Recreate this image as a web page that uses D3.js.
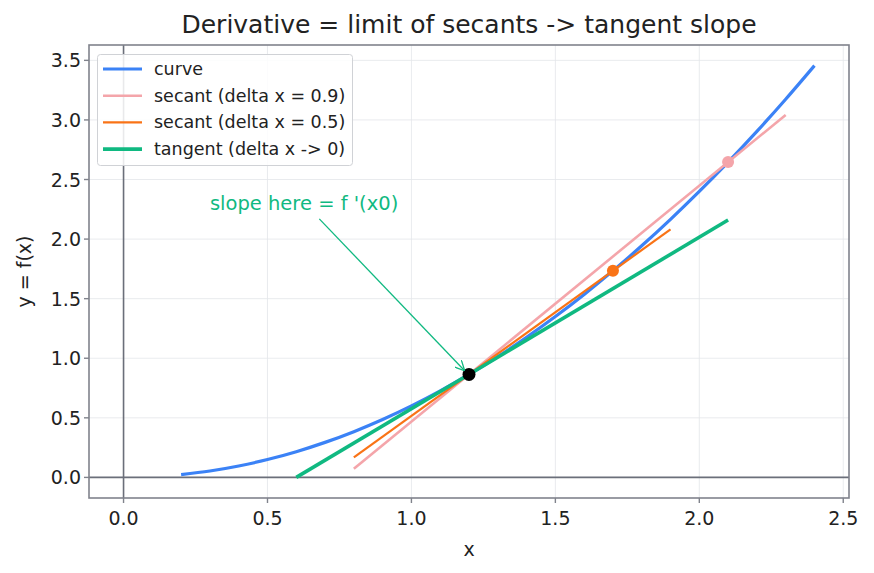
<!DOCTYPE html>
<html><head><meta charset="utf-8">
<script src="https://cdn.jsdelivr.net/npm/d3@7"></script>
<style>body{margin:0;background:#fff}svg{font-family:"DejaVu Sans",sans-serif}</style>
</head><body><svg id="c" width="874" height="573"></svg>
<script>
// curve samples
const curveX = [0.2,0.3,0.4,0.5,0.6,0.7,0.8,0.9,1.0,1.1,1.2,1.3,1.4,1.5,1.6,1.7,1.8,1.9,2.0,2.1,2.2,2.3,2.4];
const curveY = [0.024,0.054,0.096,0.15,0.216,0.294,0.384,0.486,0.6,0.726,0.864,1.014,1.176,1.35,1.536,1.734,1.944,2.166,2.4,2.646,2.904,3.174,3.456];
const secant09X = [0.8,2.3], secant09Y = [0.072,3.042];
const secant05X = [0.8,1.9], secant05Y = [0.168,2.082];
const tangentX = [0.6,2.1], tangentY = [0.0,2.16];
const pointsX = [1.2,1.7,2.1], pointsY = [0.864,1.734,2.646];
const xTicks = [0.0,0.5,1.0,1.5,2.0,2.5];
const yTicks = [0.0,0.5,1.0,1.5,2.0,2.5,3.0,3.5];
const legendLabels = ["curve","secant (delta x = 0.9)","secant (delta x = 0.5)","tangent (delta x -> 0)"];

const svg = d3.select("#c");
const L=89,R=849,T=45,B=498;
const x = d3.scaleLinear().domain([-0.12,2.52]).range([L,R]);
const y = d3.scaleLinear().domain([-0.1728,3.6288]).range([B,T]);
const gridC="#e3e6ea", spineC="#80838c";

svg.append("g").selectAll("line").data(xTicks).join("line")
 .attr("x1",d=>x(d)).attr("x2",d=>x(d)).attr("y1",T).attr("y2",B).attr("stroke",gridC).attr("stroke-width",0.8);
svg.append("g").selectAll("line").data(yTicks).join("line")
 .attr("y1",d=>y(d)).attr("y2",d=>y(d)).attr("x1",L).attr("x2",R).attr("stroke",gridC).attr("stroke-width",0.8);

svg.append("line").attr("x1",L).attr("x2",R).attr("y1",y(0)).attr("y2",y(0)).attr("stroke","#6b6f7a").attr("stroke-width",1.6);
svg.append("line").attr("y1",T).attr("y2",B).attr("x1",x(0)).attr("x2",x(0)).attr("stroke","#6b6f7a").attr("stroke-width",1.6);

const line = d3.line().x(d=>x(d[0])).y(d=>y(d[1])).curve(d3.curveMonotoneX);
const zip=(a,b)=>a.map((v,i)=>[v,b[i]]);
svg.append("path").attr("d",line(zip(curveX,curveY))).attr("fill","none").attr("stroke","#3b82f6").attr("stroke-width",3.2);
svg.append("path").attr("d",line(zip(secant09X,secant09Y))).attr("fill","none").attr("stroke","#f4a5aa").attr("stroke-width",2.6);
svg.append("path").attr("d",line(zip(secant05X,secant05Y))).attr("fill","none").attr("stroke","#f97316").attr("stroke-width",2.2);
svg.append("path").attr("d",line(zip(tangentX,tangentY))).attr("fill","none").attr("stroke","#10b981").attr("stroke-width",3.6);

const ptColors=["#000000","#f97316","#f4a5aa"];
svg.append("g").selectAll("circle").data(zip(pointsX,pointsY)).join("circle")
 .attr("cx",d=>x(d[0])).attr("cy",d=>y(d[1])).attr("r",d=>d[0]===1.2?6.5:6).attr("fill",(d,i)=>ptColors[i]);

svg.append("defs").append("marker").attr("id","ah").attr("viewBox","0 0 10 10").attr("refX",10).attr("refY",5)
 .attr("markerWidth",10).attr("markerHeight",10).attr("markerUnits","userSpaceOnUse").attr("orient","auto")
 .append("path").attr("d","M0,0 L10,5 L0,10").attr("fill","none").attr("stroke","#10b981").attr("stroke-width",1.3);
svg.append("line").attr("x1",x(0.68)).attr("y1",y(2.17)).attr("x2",x(1.185)).attr("y2",y(0.895))
 .attr("stroke","#10b981").attr("stroke-width",1.3).attr("marker-end","url(#ah)");
svg.append("text").attr("x",x(0.3)).attr("y",y(2.245)).attr("font-size",19.5).attr("fill","#10b981").text("slope here = f '(x0)");

svg.append("rect").attr("x",L).attr("y",T).attr("width",R-L).attr("height",B-T).attr("fill","none").attr("stroke",spineC).attr("stroke-width",1.6);

const xa=svg.append("g");
xTicks.forEach(t=>{
 xa.append("line").attr("x1",x(t)).attr("x2",x(t)).attr("y1",B).attr("y2",B+5).attr("stroke",spineC).attr("stroke-width",1.4);
 xa.append("text").attr("x",x(t)).attr("y",B+27).attr("text-anchor","middle").attr("font-size",19).attr("fill","#222").text(t.toFixed(1));
});
yTicks.forEach(t=>{
 xa.append("line").attr("y1",y(t)).attr("y2",y(t)).attr("x1",L).attr("x2",L-5).attr("stroke",spineC).attr("stroke-width",1.4);
 xa.append("text").attr("x",L-8).attr("y",y(t)+7).attr("text-anchor","end").attr("font-size",19).attr("fill","#222").text(t.toFixed(1));
});
svg.append("text").attr("x",(L+R)/2).attr("y",556).attr("text-anchor","middle").attr("font-size",19).attr("fill","#222").text("x");
svg.append("text").attr("transform",`translate(31,${(T+B)/2}) rotate(-90)`).attr("text-anchor","middle").attr("font-size",19).attr("fill","#222").text("y = f(x)");
svg.append("text").attr("x",(L+R)/2).attr("y",33).attr("text-anchor","middle").attr("font-size",25).attr("fill","#222").text("Derivative = limit of secants -> tangent slope");

const lg=svg.append("g");
lg.append("rect").attr("x",97.5).attr("y",54.5).attr("width",255).attr("height",111).attr("rx",3).attr("fill","#fff").attr("fill-opacity",0.85).attr("stroke","#d0d2d6");
const lc=["#3b82f6","#f4a5aa","#f97316","#10b981"], lw=[3.2,2.6,2.2,3.6];
legendLabels.forEach((s,i)=>{
 const yy=69+i*26.7;
 lg.append("line").attr("x1",103).attr("x2",142).attr("y1",yy).attr("y2",yy).attr("stroke",lc[i]).attr("stroke-width",lw[i]);
 lg.append("text").attr("x",154).attr("y",yy+6).attr("font-size",17.5).attr("fill","#222").text(s);
});
</script></body></html>
